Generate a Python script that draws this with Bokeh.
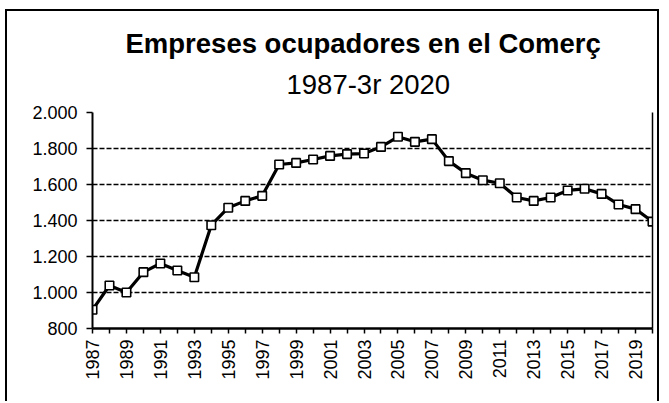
import math
from bokeh.plotting import figure
from bokeh.models import FixedTicker, LinearAxis, Title, Range1d, ColumnDataSource
from bokeh.embed import file_html
from bokeh.resources import INLINE

title_text = "Empreses ocupadores en el Comerç"
subtitle_text = "1987-3r 2020"

years = list(range(1987, 2021))
empreses = [904, 1039, 1000, 1113, 1161, 1122, 1085, 1374, 1471, 1509,
            1537, 1711, 1720, 1739, 1759, 1769, 1772, 1809, 1865, 1837,
            1852, 1730, 1663, 1624, 1607, 1528, 1509, 1528, 1567, 1576,
            1548, 1489, 1463, 1394]

y_ticks = [800, 1000, 1200, 1400, 1600, 1800, 2000]
y_tick_labels = ["800", "1.000", "1.200", "1.400", "1.600", "1.800", "2.000"]
x_tick_labels = [str(y) if (y - 1987) % 2 == 0 else "" for y in years]

FONT = "Liberation Sans"

p = figure(width=654, height=392, output_backend="svg", toolbar_location=None,
           x_range=Range1d(1987, 2020), y_range=Range1d(800, 2000),
           min_border_left=85, min_border_right=9, min_border_top=101,
           min_border_bottom=75)
p.styles = {"border-left": "2px solid black", "border-top": "2px solid black",
            "border-right": "2px solid black", "margin-left": "5px",
            "margin-top": "9px"}
p.outline_line_color = None
p.background_fill_color = "white"
p.border_fill_color = "white"

src = ColumnDataSource(dict(x=years, y=empreses))
p.line("x", "y", source=src, line_color="black", line_width=3.2)
p.scatter("x", "y", source=src, marker="square", size=8.5, fill_color="white",
          line_color="black", line_width=1.6)

# x axis
xa = p.xaxis[0]
xa.ticker = FixedTicker(ticks=years)
xa.major_label_overrides = {y: l for y, l in zip(years, x_tick_labels)}
xa.major_label_orientation = math.pi / 2
xa.major_label_text_font = FONT
xa.major_label_text_font_size = "18px"
xa.major_label_text_color = "black"
xa.major_label_standoff = 6
xa.axis_line_width = 2.5
xa.axis_line_color = "black"
xa.major_tick_in = 0
xa.major_tick_out = 5
xa.major_tick_line_width = 1.5
xa.minor_tick_line_color = None

ya = p.yaxis[0]
ya.ticker = FixedTicker(ticks=y_ticks)
ya.major_label_overrides = {v: l for v, l in zip(y_ticks, y_tick_labels)}
ya.major_label_text_font = FONT
ya.major_label_text_font_size = "18px"
ya.major_label_text_color = "black"
ya.major_label_standoff = 9
ya.axis_line_width = 2
ya.axis_line_color = "black"
ya.major_tick_in = 0
ya.major_tick_out = 6
ya.major_tick_line_width = 1.5
ya.minor_tick_line_color = None

ra = LinearAxis(ticker=FixedTicker(ticks=[]), major_label_text_font_size="0px",
                major_tick_line_color=None, minor_tick_line_color=None,
                axis_line_width=1.5, axis_line_color="black")
p.add_layout(ra, "right")

p.xgrid.grid_line_color = None
p.ygrid.ticker = FixedTicker(ticks=y_ticks)
p.ygrid.grid_line_color = "black"
p.ygrid.grid_line_dash = "5 2"
p.ygrid.grid_line_width = 1.3

p.add_layout(Title(text=subtitle_text, align="left", offset=194, standoff=25,
                   text_font=FONT, text_font_style="normal", text_font_size="27.5px",
                   text_color="black"), "above")
p.add_layout(Title(text=title_text, align="left", offset=33, standoff=-8,
                   text_font=FONT, text_font_style="bold", text_font_size="27.5px",
                   text_color="black"), "above")

open("out.html", "w").write(file_html(p, INLINE))
